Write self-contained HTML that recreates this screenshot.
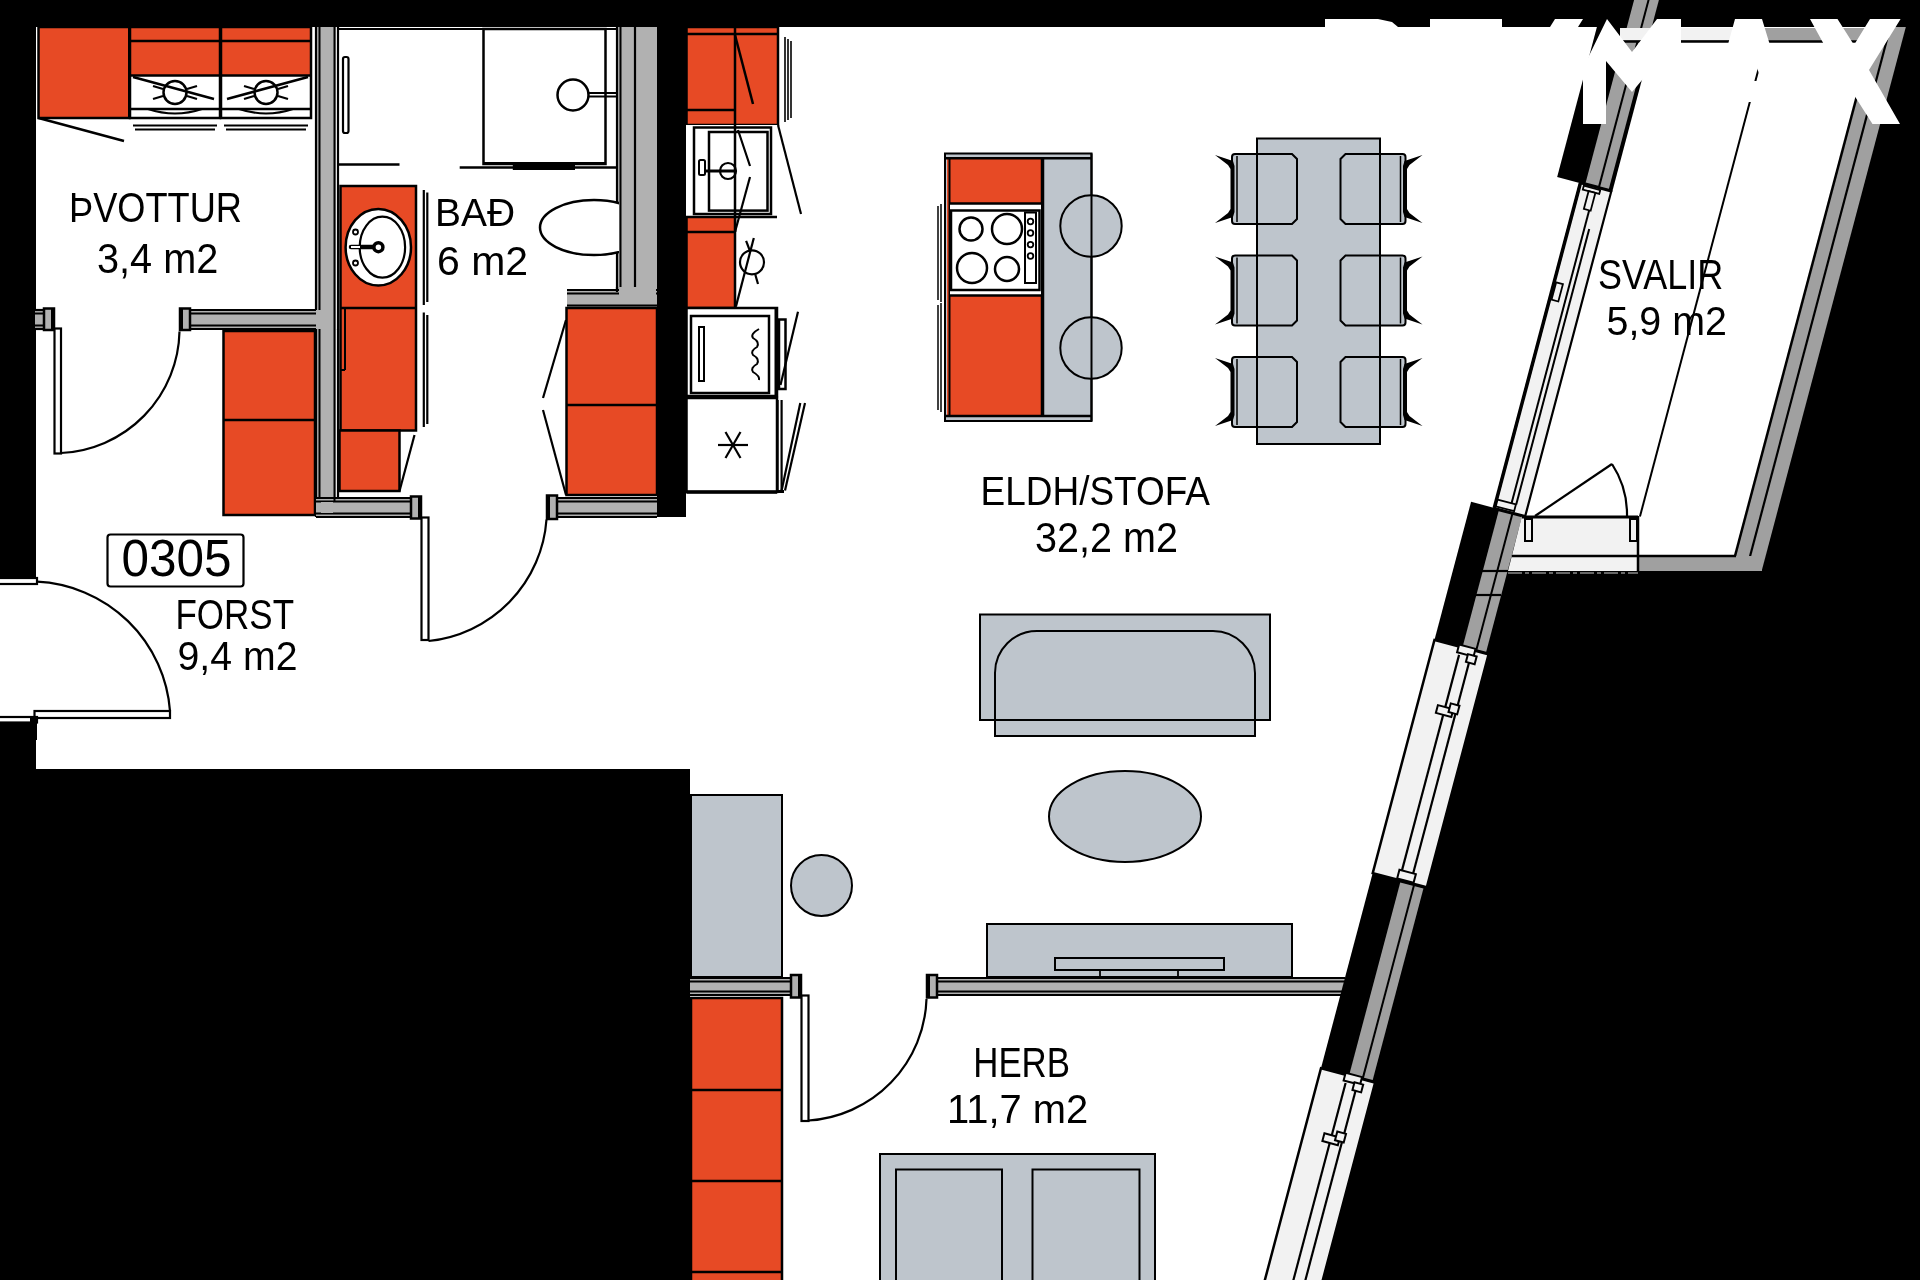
<!DOCTYPE html>
<html><head><meta charset="utf-8"><style>
html,body{margin:0;padding:0;background:#000;width:1920px;height:1280px;overflow:hidden}
svg{display:block}
text{font-family:"Liberation Sans",sans-serif;fill:#000}
</style></head><body>
<svg width="1920" height="1280" viewBox="0 0 1920 1280">
<rect x="0" y="0" width="1920" height="1280" fill="#000"/>
<polygon points="36,27 1875,27 1731,571 1510.7,571 1322.8,1280 690,1280 690,769 36,769 36,722 0,722 0,578 36,578" fill="#fff" stroke="none" stroke-width="0"/>
<rect x="38.5" y="27" width="91.0" height="91" fill="#E74A25" stroke="#000" stroke-width="2.5" />
<rect x="130" y="27" width="90" height="48" fill="#E74A25"/>
<rect x="130" y="27" width="90" height="91" fill="none" stroke="#000" stroke-width="2.5" />
<line x1="130" y1="41" x2="220" y2="41" stroke="#000" stroke-width="2.5" />
<line x1="130" y1="75.5" x2="220" y2="75.5" stroke="#000" stroke-width="2.5" />
<line x1="130" y1="109" x2="220" y2="109" stroke="#000" stroke-width="2.5" />
<rect x="221" y="27" width="90" height="48" fill="#E74A25"/>
<rect x="221" y="27" width="90" height="91" fill="none" stroke="#000" stroke-width="2.5" />
<line x1="221" y1="41" x2="311" y2="41" stroke="#000" stroke-width="2.5" />
<line x1="221" y1="75.5" x2="311" y2="75.5" stroke="#000" stroke-width="2.5" />
<line x1="221" y1="109" x2="311" y2="109" stroke="#000" stroke-width="2.5" />
<line x1="129.5" y1="27" x2="129.5" y2="118" stroke="#000" stroke-width="3" />
<circle cx="175" cy="92.5" r="11.5" fill="none" stroke="#000" stroke-width="2.5"/>
<line x1="133" y1="77" x2="214" y2="99" stroke="#000" stroke-width="2.5" />
<line x1="153" y1="86" x2="163" y2="89" stroke="#000" stroke-width="2.2" />
<line x1="187" y1="89" x2="197" y2="86" stroke="#000" stroke-width="2.2" />
<line x1="153" y1="99" x2="163" y2="96" stroke="#000" stroke-width="2.2" />
<line x1="187" y1="96" x2="197" y2="99" stroke="#000" stroke-width="2.2" />
<path d="M148,109 Q175,118 202,109" fill="none" stroke="#000" stroke-width="2" />
<line x1="133" y1="125.5" x2="217" y2="125.5" stroke="#000" stroke-width="2.2" />
<line x1="135" y1="129.5" x2="215" y2="129.5" stroke="#000" stroke-width="2.2" />
<circle cx="266" cy="92.5" r="11.5" fill="none" stroke="#000" stroke-width="2.5"/>
<line x1="308" y1="77" x2="227" y2="99" stroke="#000" stroke-width="2.5" />
<line x1="244" y1="86" x2="254" y2="89" stroke="#000" stroke-width="2.2" />
<line x1="278" y1="89" x2="288" y2="86" stroke="#000" stroke-width="2.2" />
<line x1="244" y1="99" x2="254" y2="96" stroke="#000" stroke-width="2.2" />
<line x1="278" y1="96" x2="288" y2="99" stroke="#000" stroke-width="2.2" />
<path d="M239,109 Q266,118 293,109" fill="none" stroke="#000" stroke-width="2" />
<line x1="224" y1="125.5" x2="308" y2="125.5" stroke="#000" stroke-width="2.2" />
<line x1="226" y1="129.5" x2="306" y2="129.5" stroke="#000" stroke-width="2.2" />
<line x1="38.5" y1="118" x2="124" y2="141" stroke="#000" stroke-width="2.5" />
<rect x="315" y="27" width="21" height="303" fill="#B1B1B1"/>
<line x1="316" y1="27" x2="316" y2="310" stroke="#000" stroke-width="2.2" />
<line x1="319.5" y1="27" x2="319.5" y2="310" stroke="#000" stroke-width="2" />
<line x1="334.5" y1="27" x2="334.5" y2="330" stroke="#000" stroke-width="2" />
<line x1="338" y1="27" x2="338" y2="330" stroke="#000" stroke-width="2.2" />
<rect x="190" y="309" width="126" height="21" fill="#B1B1B1"/>
<line x1="190" y1="310" x2="316" y2="310" stroke="#000" stroke-width="2.2" />
<line x1="190" y1="329" x2="316" y2="329" stroke="#000" stroke-width="2.2" />
<line x1="190" y1="313.5" x2="316" y2="313.5" stroke="#000" stroke-width="2" />
<line x1="190" y1="325.5" x2="316" y2="325.5" stroke="#000" stroke-width="2" />
<rect x="35" y="309" width="15" height="21" fill="#B1B1B1"/>
<line x1="35" y1="310" x2="50" y2="310" stroke="#000" stroke-width="2.2" />
<line x1="35" y1="329" x2="50" y2="329" stroke="#000" stroke-width="2.2" />
<line x1="35" y1="313.5" x2="50" y2="313.5" stroke="#000" stroke-width="2" />
<line x1="35" y1="325.5" x2="50" y2="325.5" stroke="#000" stroke-width="2" />
<rect x="44" y="308.5" width="10" height="21.5" fill="#B1B1B1" stroke="#000" stroke-width="2.5" />
<line x1="52.5" y1="308.5" x2="52.5" y2="330" stroke="#000" stroke-width="3" />
<g transform="translate(370,0) scale(-1,1)">
<rect x="180" y="308.5" width="10" height="21.5" fill="#B1B1B1" stroke="#000" stroke-width="2.5" />
<line x1="188.5" y1="308.5" x2="188.5" y2="330" stroke="#000" stroke-width="3" />
</g>
<rect x="54.5" y="328.5" width="6.5" height="125.0" fill="#fff" stroke="#000" stroke-width="2.2" />
<path d="M61,453 A124.3,124.3 0 0 0 179.5,331.5" fill="none" stroke="#000" stroke-width="2.2" />
<rect x="223.5" y="331" width="91.5" height="184" fill="#E74A25" stroke="#000" stroke-width="2.5" />
<line x1="223.5" y1="420" x2="315" y2="420" stroke="#000" stroke-width="2.5" />
<rect x="315" y="329" width="21" height="188" fill="#B1B1B1"/>
<line x1="316" y1="329" x2="316" y2="517" stroke="#000" stroke-width="2.2" />
<line x1="319.5" y1="329" x2="319.5" y2="513.5" stroke="#000" stroke-width="2" />
<rect x="316" y="497" width="97" height="21" fill="#B1B1B1"/>
<line x1="316" y1="498" x2="413" y2="498" stroke="#000" stroke-width="2.2" />
<line x1="316" y1="517" x2="413" y2="517" stroke="#000" stroke-width="2.2" />
<line x1="316" y1="501.5" x2="413" y2="501.5" stroke="#000" stroke-width="2" />
<line x1="316" y1="513.5" x2="413" y2="513.5" stroke="#000" stroke-width="2" />
<rect x="321" y="502" width="12" height="11" fill="#B1B1B1"/>
<line x1="334.5" y1="329" x2="334.5" y2="502" stroke="#000" stroke-width="2" />
<line x1="338" y1="329" x2="338" y2="498" stroke="#000" stroke-width="2.2" />
<rect x="411" y="496.5" width="10" height="22.0" fill="#B1B1B1" stroke="#000" stroke-width="2.5" />
<line x1="419.5" y1="496.5" x2="419.5" y2="518.5" stroke="#000" stroke-width="3" />
<rect x="421.5" y="517.5" width="7.0" height="122.5" fill="#fff" stroke="#000" stroke-width="2.2" />
<path d="M428.5,641 A131.6,131.6 0 0 0 546.5,519.5" fill="none" stroke="#000" stroke-width="2.2" />
<rect x="107.5" y="534.5" width="136.0" height="52.0" fill="#fff" stroke="#000" stroke-width="2.2" rx="3"/>
<rect x="-2" y="578" width="39" height="6" fill="#fff" stroke="#000" stroke-width="2.2" />
<path d="M37,581.7 A140,140 0 0 1 170,711" fill="none" stroke="#000" stroke-width="2.2" />
<rect x="34.5" y="711" width="135.5" height="7" fill="#fff" stroke="#000" stroke-width="2.2" />
<rect x="-2" y="717" width="39" height="5.5" fill="#fff" stroke="#000" stroke-width="2.2" />
<rect x="30" y="718" width="7" height="22" fill="#000"/>
<line x1="338" y1="29" x2="617" y2="29" stroke="#000" stroke-width="2.2" />
<rect x="343" y="57" width="5.5" height="76" fill="#fff" stroke="#000" stroke-width="2.2" rx="2"/>
<rect x="483.5" y="29" width="122.0" height="135" fill="none" stroke="#000" stroke-width="2.5" />
<line x1="483.5" y1="163" x2="605.5" y2="163" stroke="#000" stroke-width="2.2" />
<line x1="338.5" y1="164.5" x2="399.5" y2="164.5" stroke="#000" stroke-width="2.5" />
<line x1="459.7" y1="167.5" x2="619" y2="167.5" stroke="#000" stroke-width="2.5" />
<line x1="512.8" y1="167.5" x2="575" y2="167.5" stroke="#000" stroke-width="5" />
<circle cx="573" cy="95" r="15.5" fill="none" stroke="#000" stroke-width="2.5"/>
<line x1="589" y1="93" x2="617" y2="93" stroke="#000" stroke-width="2" />
<line x1="589" y1="96.5" x2="617" y2="96.5" stroke="#000" stroke-width="2" />
<rect x="617" y="27" width="40" height="279" fill="#B1B1B1"/>
<line x1="617" y1="27" x2="617" y2="290" stroke="#000" stroke-width="2.2" />
<line x1="620.5" y1="27" x2="620.5" y2="290" stroke="#000" stroke-width="2" />
<line x1="635" y1="27" x2="635" y2="290" stroke="#000" stroke-width="2.2" />
<clipPath id="toil"><rect x="500" y="180" width="119" height="100"/></clipPath>
<g clip-path="url(#toil)">
<ellipse cx="594" cy="227.6" rx="54" ry="27.5" fill="#fff" stroke="#000" stroke-width="2.5"/>
</g>
<rect x="340.5" y="186" width="75.5" height="244.5" fill="#E74A25" stroke="#000" stroke-width="2.5" />
<line x1="340.5" y1="308" x2="416" y2="308" stroke="#000" stroke-width="2.5" />
<line x1="345" y1="308" x2="345" y2="370" stroke="#000" stroke-width="2" />
<line x1="340.5" y1="370" x2="345" y2="370" stroke="#000" stroke-width="2" />
<rect x="339.5" y="430.5" width="60.0" height="60.5" fill="#E74A25" stroke="#000" stroke-width="2.5" />
<line x1="399.5" y1="491" x2="414.5" y2="435" stroke="#000" stroke-width="2.2" />
<ellipse cx="378.3" cy="247.2" rx="32.7" ry="38.3" fill="#fff" stroke="#000" stroke-width="2.5"/>
<ellipse cx="382.4" cy="247.2" rx="22.7" ry="30.5" fill="#fff" stroke="#000" stroke-width="2.2"/>
<line x1="351" y1="247" x2="378" y2="247" stroke="#000" stroke-width="4.5" stroke-linecap="round"/>
<line x1="351" y1="247" x2="360" y2="247" stroke="#fff" stroke-width="2" />
<circle cx="378.4" cy="247.2" r="4.5" fill="#fff" stroke="#000" stroke-width="3.5"/>
<circle cx="355.5" cy="232" r="2.5" fill="none" stroke="#000" stroke-width="1.8"/>
<circle cx="355.5" cy="263" r="2.5" fill="none" stroke="#000" stroke-width="1.8"/>
<line x1="423.8" y1="190" x2="423.8" y2="305" stroke="#000" stroke-width="2.2" />
<line x1="427.3" y1="192.5" x2="427.3" y2="302" stroke="#000" stroke-width="2.2" />
<line x1="423.8" y1="312.5" x2="423.8" y2="427" stroke="#000" stroke-width="2.2" />
<line x1="427.3" y1="315" x2="427.3" y2="424" stroke="#000" stroke-width="2.2" />
<rect x="567" y="289" width="90" height="21" fill="#B1B1B1"/>
<line x1="567" y1="290" x2="657" y2="290" stroke="#000" stroke-width="2.2" />
<line x1="567" y1="309" x2="657" y2="309" stroke="#000" stroke-width="2.2" />
<line x1="567" y1="293.5" x2="657" y2="293.5" stroke="#000" stroke-width="2" />
<line x1="567" y1="305.5" x2="657" y2="305.5" stroke="#000" stroke-width="2" />
<rect x="619" y="287" width="37" height="13" fill="#B1B1B1"/>
<line x1="617" y1="287" x2="617" y2="292" stroke="#000" stroke-width="2.2" />
<rect x="566.5" y="308" width="90.5" height="187" fill="#E74A25" stroke="#000" stroke-width="2.5" />
<line x1="566.5" y1="405" x2="657" y2="405" stroke="#000" stroke-width="2.5" />
<line x1="566" y1="320" x2="543" y2="398" stroke="#000" stroke-width="2.2" />
<line x1="543" y1="410" x2="566" y2="495" stroke="#000" stroke-width="2.2" />
<rect x="550" y="497" width="107" height="21" fill="#B1B1B1"/>
<line x1="550" y1="498" x2="657" y2="498" stroke="#000" stroke-width="2.2" />
<line x1="550" y1="517" x2="657" y2="517" stroke="#000" stroke-width="2.2" />
<line x1="550" y1="501.5" x2="657" y2="501.5" stroke="#000" stroke-width="2" />
<line x1="550" y1="513.5" x2="657" y2="513.5" stroke="#000" stroke-width="2" />
<g transform="translate(1105,0) scale(-1,1)">
<rect x="548" y="495.5" width="10" height="23.5" fill="#B1B1B1" stroke="#000" stroke-width="2.5" />
<line x1="556.5" y1="495.5" x2="556.5" y2="519" stroke="#000" stroke-width="3" />
</g>
<rect x="657" y="27" width="29" height="490" fill="#000"/>
<rect x="686.5" y="27" width="91.5" height="98" fill="#E74A25" stroke="#000" stroke-width="2.5" />
<line x1="686.5" y1="34" x2="778" y2="34" stroke="#000" stroke-width="2.5" />
<line x1="735" y1="27" x2="735" y2="125" stroke="#000" stroke-width="2.5" />
<line x1="686.5" y1="110" x2="735" y2="110" stroke="#000" stroke-width="2.5" />
<line x1="735" y1="35" x2="753" y2="104" stroke="#000" stroke-width="2.5" />
<line x1="785" y1="37" x2="785" y2="122" stroke="#000" stroke-width="1.6" />
<line x1="788" y1="39" x2="788" y2="120" stroke="#000" stroke-width="1.6" />
<line x1="791" y1="41" x2="791" y2="118" stroke="#000" stroke-width="1.6" />
<rect x="686" y="125" width="92" height="92" fill="#fff"/>
<rect x="694" y="127.5" width="77" height="86.5" fill="none" stroke="#000" stroke-width="2.5" />
<rect x="709" y="132" width="58.5" height="78.6" fill="none" stroke="#000" stroke-width="2.5" />
<line x1="735" y1="125" x2="735" y2="232" stroke="#000" stroke-width="2.5" />
<rect x="699" y="160" width="6" height="15" fill="#fff" stroke="#000" stroke-width="2" rx="1.5"/>
<line x1="705" y1="171" x2="735" y2="171" stroke="#000" stroke-width="3" />
<circle cx="728" cy="171" r="8" fill="none" stroke="#000" stroke-width="2.2"/>
<line x1="738" y1="130" x2="750" y2="166" stroke="#000" stroke-width="2.2" />
<line x1="750" y1="177" x2="735" y2="232" stroke="#000" stroke-width="2.2" />
<line x1="778" y1="125" x2="801" y2="214" stroke="#000" stroke-width="2.2" />
<line x1="735" y1="217" x2="777" y2="217" stroke="#000" stroke-width="2.5" />
<rect x="686.5" y="217" width="48.5" height="91" fill="#E74A25" stroke="#000" stroke-width="2.5" />
<line x1="686.5" y1="232" x2="735" y2="232" stroke="#000" stroke-width="2.5" />
<circle cx="752" cy="262.3" r="12" fill="none" stroke="#000" stroke-width="2.2"/>
<line x1="735.9" y1="306.6" x2="753.8" y2="238" stroke="#000" stroke-width="2.2" />
<line x1="746.1" y1="240.8" x2="749.6" y2="250" stroke="#000" stroke-width="2.2" />
<line x1="755.2" y1="274.2" x2="758" y2="284" stroke="#000" stroke-width="2.2" />
<rect x="686.5" y="308" width="90.5" height="88" fill="#fff" stroke="#000" stroke-width="2.5" />
<rect x="691" y="316" width="78" height="77" fill="none" stroke="#000" stroke-width="2.5" />
<rect x="699" y="327" width="5" height="54" fill="none" stroke="#000" stroke-width="2" />
<path d="M759,329 Q750,334 753,338 Q760,342 757,347 Q750,351 753,355 Q760,359 757,364 Q750,368 753,372 Q760,376 759,380" fill="none" stroke="#000" stroke-width="2" />
<rect x="779" y="319.5" width="6.5" height="69.5" fill="#fff" stroke="#000" stroke-width="2.5" />
<line x1="775.5" y1="308" x2="775.5" y2="397" stroke="#000" stroke-width="2" />
<line x1="780.5" y1="385" x2="798" y2="311.7" stroke="#000" stroke-width="2.2" />
<rect x="686.5" y="398" width="90.5" height="94" fill="#fff" stroke="#000" stroke-width="2.5" />
<line x1="686.5" y1="397" x2="777" y2="397" stroke="#000" stroke-width="3.5" />
<line x1="686.5" y1="492" x2="777" y2="492" stroke="#000" stroke-width="3.5" />
<line x1="718.0" y1="445.0" x2="748.0" y2="445.0" stroke="#000" stroke-width="2.2" />
<line x1="725.5" y1="432.0" x2="740.5" y2="458.0" stroke="#000" stroke-width="2.2" />
<line x1="740.5" y1="432.0" x2="725.5" y2="458.0" stroke="#000" stroke-width="2.2" />
<line x1="777.6" y1="400" x2="777.6" y2="491" stroke="#000" stroke-width="2.2" />
<line x1="781.6" y1="400" x2="781.6" y2="491" stroke="#000" stroke-width="2.2" />
<line x1="781.6" y1="490.6" x2="800.3" y2="403" stroke="#000" stroke-width="2.2" />
<line x1="785" y1="490.6" x2="805" y2="403" stroke="#000" stroke-width="2.2" />
<line x1="777" y1="491.5" x2="784" y2="491.5" stroke="#000" stroke-width="3" />
<rect x="945" y="153.5" width="146.5" height="267.5" fill="#BEC5CC" stroke="#000" stroke-width="2.0" />
<rect x="947" y="158" width="94" height="258" fill="#E74A25"/>
<line x1="945" y1="158.3" x2="1091.5" y2="158.3" stroke="#000" stroke-width="2.5" />
<line x1="945" y1="416" x2="1091.5" y2="416" stroke="#000" stroke-width="2.5" />
<line x1="949.5" y1="158" x2="949.5" y2="416" stroke="#000" stroke-width="2" />
<line x1="1042.5" y1="158" x2="1042.5" y2="416" stroke="#000" stroke-width="3.5" />
<rect x="950" y="203" width="91" height="93" fill="#fff"/>
<line x1="950" y1="203.5" x2="1041" y2="203.5" stroke="#000" stroke-width="2.5" />
<line x1="950" y1="295.5" x2="1041" y2="295.5" stroke="#000" stroke-width="2.5" />
<rect x="951" y="210.5" width="88.5" height="79.5" fill="none" stroke="#000" stroke-width="2.5" />
<circle cx="971" cy="229" r="11.5" fill="none" stroke="#000" stroke-width="2.5"/>
<circle cx="1007" cy="229" r="15" fill="none" stroke="#000" stroke-width="2.5"/>
<circle cx="972" cy="268" r="15" fill="none" stroke="#000" stroke-width="2.5"/>
<circle cx="1007" cy="269" r="12" fill="none" stroke="#000" stroke-width="2.5"/>
<rect x="1025" y="212.5" width="11" height="70.5" fill="none" stroke="#000" stroke-width="2" />
<circle cx="1030.5" cy="221.5" r="2.8" fill="none" stroke="#000" stroke-width="1.8"/>
<circle cx="1030.5" cy="233" r="2.8" fill="none" stroke="#000" stroke-width="1.8"/>
<circle cx="1030.5" cy="244.6" r="2.8" fill="none" stroke="#000" stroke-width="1.8"/>
<circle cx="1030.5" cy="256" r="2.8" fill="none" stroke="#000" stroke-width="1.8"/>
<line x1="938" y1="206" x2="938" y2="300" stroke="#000" stroke-width="1.5" />
<line x1="941" y1="204" x2="941" y2="302" stroke="#000" stroke-width="1.5" />
<line x1="938" y1="305" x2="938" y2="410" stroke="#000" stroke-width="1.5" />
<line x1="941" y1="303" x2="941" y2="412" stroke="#000" stroke-width="1.5" />
<circle cx="1091" cy="226" r="30.7" fill="#BEC5CC" stroke="#000" stroke-width="2.0"/>
<circle cx="1091" cy="348" r="30.7" fill="#BEC5CC" stroke="#000" stroke-width="2.0"/>
<line x1="1091.5" y1="153.5" x2="1091.5" y2="421" stroke="#000" stroke-width="2.0" />
<rect x="1257" y="138.5" width="123" height="305.5" fill="#BEC5CC" stroke="#000" stroke-width="2.0" />
<path d="M1235,154.0 L1292,154.0 L1297,159.0 L1297,219.0 L1292,224.0 L1235,224.0 Q1232,224.0 1232,221.0 L1232,157.0 Q1232,154.0 1235,154.0 Z" fill="#BEC5CC" stroke="#000" stroke-width="2.0" />
<line x1="1237" y1="156.0" x2="1237" y2="222.0" stroke="#000" stroke-width="1.5" />
<path fill="#000" d="M1215,155.0 L1233,161.0 L1234.5,166.0 L1234.5,212.0 L1233,217.0 L1215,223.0 L1228,213.0 L1230.5,209.0 L1230.5,169.0 L1228,165.0 Z"/>
<path d="M1345.5,154.0 L1402.5,154.0 Q1405.5,154.0 1405.5,157.0 L1405.5,221.0 Q1405.5,224.0 1402.5,224.0 L1345.5,224.0 L1340.5,219.0 L1340.5,159.0 Z" fill="#BEC5CC" stroke="#000" stroke-width="2.0" />
<line x1="1400.5" y1="156.0" x2="1400.5" y2="222.0" stroke="#000" stroke-width="1.5" />
<path fill="#000" d="M1422.5,155.0 L1404.5,161.0 L1403.0,166.0 L1403.0,212.0 L1404.5,217.0 L1422.5,223.0 L1409.5,213.0 L1407.0,209.0 L1407.0,169.0 L1409.5,165.0 Z"/>
<path d="M1235,255.5 L1292,255.5 L1297,260.5 L1297,320.5 L1292,325.5 L1235,325.5 Q1232,325.5 1232,322.5 L1232,258.5 Q1232,255.5 1235,255.5 Z" fill="#BEC5CC" stroke="#000" stroke-width="2.0" />
<line x1="1237" y1="257.5" x2="1237" y2="323.5" stroke="#000" stroke-width="1.5" />
<path fill="#000" d="M1215,256.5 L1233,262.5 L1234.5,267.5 L1234.5,313.5 L1233,318.5 L1215,324.5 L1228,314.5 L1230.5,310.5 L1230.5,270.5 L1228,266.5 Z"/>
<path d="M1345.5,255.5 L1402.5,255.5 Q1405.5,255.5 1405.5,258.5 L1405.5,322.5 Q1405.5,325.5 1402.5,325.5 L1345.5,325.5 L1340.5,320.5 L1340.5,260.5 Z" fill="#BEC5CC" stroke="#000" stroke-width="2.0" />
<line x1="1400.5" y1="257.5" x2="1400.5" y2="323.5" stroke="#000" stroke-width="1.5" />
<path fill="#000" d="M1422.5,256.5 L1404.5,262.5 L1403.0,267.5 L1403.0,313.5 L1404.5,318.5 L1422.5,324.5 L1409.5,314.5 L1407.0,310.5 L1407.0,270.5 L1409.5,266.5 Z"/>
<path d="M1235,357.0 L1292,357.0 L1297,362.0 L1297,422.0 L1292,427.0 L1235,427.0 Q1232,427.0 1232,424.0 L1232,360.0 Q1232,357.0 1235,357.0 Z" fill="#BEC5CC" stroke="#000" stroke-width="2.0" />
<line x1="1237" y1="359.0" x2="1237" y2="425.0" stroke="#000" stroke-width="1.5" />
<path fill="#000" d="M1215,358.0 L1233,364.0 L1234.5,369.0 L1234.5,415.0 L1233,420.0 L1215,426.0 L1228,416.0 L1230.5,412.0 L1230.5,372.0 L1228,368.0 Z"/>
<path d="M1345.5,357.0 L1402.5,357.0 Q1405.5,357.0 1405.5,360.0 L1405.5,424.0 Q1405.5,427.0 1402.5,427.0 L1345.5,427.0 L1340.5,422.0 L1340.5,362.0 Z" fill="#BEC5CC" stroke="#000" stroke-width="2.0" />
<line x1="1400.5" y1="359.0" x2="1400.5" y2="425.0" stroke="#000" stroke-width="1.5" />
<path fill="#000" d="M1422.5,358.0 L1404.5,364.0 L1403.0,369.0 L1403.0,415.0 L1404.5,420.0 L1422.5,426.0 L1409.5,416.0 L1407.0,412.0 L1407.0,372.0 L1409.5,368.0 Z"/>
<line x1="1257" y1="138.5" x2="1257" y2="444" stroke="#000" stroke-width="2.0" />
<line x1="1380" y1="138.5" x2="1380" y2="444" stroke="#000" stroke-width="2.0" />
<rect x="980" y="614.5" width="290" height="105.5" fill="#BEC5CC" stroke="#000" stroke-width="2.0" />
<path d="M995,736 L995,673 A42,42 0 0 1 1037,631 L1213,631 A42,42 0 0 1 1255,673 L1255,736 Z" fill="#BEC5CC" stroke="#000" stroke-width="2.0" />
<line x1="980" y1="720" x2="1270" y2="720" stroke="#000" stroke-width="2.0" />
<line x1="980" y1="720" x2="980" y2="614.5" stroke="#000" stroke-width="2.0" />
<line x1="1270" y1="720" x2="1270" y2="614.5" stroke="#000" stroke-width="2.0" />
<ellipse cx="1125" cy="816.5" rx="76" ry="45.5" fill="#BEC5CC" stroke="#000" stroke-width="2.0"/>
<rect x="987" y="924" width="305" height="53" fill="#BEC5CC" stroke="#000" stroke-width="2.0" />
<rect x="1055" y="958" width="169" height="12" fill="#BEC5CC" stroke="#000" stroke-width="2.0" />
<line x1="1100" y1="970" x2="1100" y2="977" stroke="#000" stroke-width="1.8" />
<line x1="1178" y1="970" x2="1178" y2="977" stroke="#000" stroke-width="1.8" />
<rect x="691" y="795" width="91" height="182" fill="#BEC5CC" stroke="#000" stroke-width="2.0" />
<circle cx="821.5" cy="885.5" r="30.5" fill="#BEC5CC" stroke="#000" stroke-width="2.0"/>
<rect x="689" y="977" width="105" height="19" fill="#B1B1B1"/>
<line x1="689" y1="978" x2="794" y2="978" stroke="#000" stroke-width="2.2" />
<line x1="689" y1="995" x2="794" y2="995" stroke="#000" stroke-width="2.2" />
<line x1="689" y1="981.5" x2="794" y2="981.5" stroke="#000" stroke-width="2" />
<line x1="689" y1="991.5" x2="794" y2="991.5" stroke="#000" stroke-width="2" />
<rect x="791" y="975" width="10" height="22.5" fill="#B1B1B1" stroke="#000" stroke-width="2.5" />
<line x1="799.5" y1="975" x2="799.5" y2="997.5" stroke="#000" stroke-width="3" />
<rect x="934" y="977" width="411" height="19" fill="#B1B1B1"/>
<line x1="934" y1="978" x2="1345" y2="978" stroke="#000" stroke-width="2.2" />
<line x1="934" y1="995" x2="1345" y2="995" stroke="#000" stroke-width="2.2" />
<line x1="934" y1="981.5" x2="1345" y2="981.5" stroke="#000" stroke-width="2" />
<line x1="934" y1="991.5" x2="1345" y2="991.5" stroke="#000" stroke-width="2" />
<g transform="translate(1864,0) scale(-1,1)">
<rect x="927" y="975" width="10" height="22.5" fill="#B1B1B1" stroke="#000" stroke-width="2.5" />
<line x1="935.5" y1="975" x2="935.5" y2="997.5" stroke="#000" stroke-width="3" />
</g>
<rect x="691" y="998" width="91" height="292" fill="#E74A25" stroke="#000" stroke-width="2.5" />
<line x1="691" y1="1090" x2="782" y2="1090" stroke="#000" stroke-width="2.5" />
<line x1="691" y1="1181" x2="782" y2="1181" stroke="#000" stroke-width="2.5" />
<line x1="691" y1="1272" x2="782" y2="1272" stroke="#000" stroke-width="2.5" />
<rect x="801.5" y="995.5" width="7.0" height="125.5" fill="#fff" stroke="#000" stroke-width="2.2" />
<path d="M808.5,1120.5 A126,126 0 0 0 926.5,999" fill="none" stroke="#000" stroke-width="2.2" />
<rect x="880" y="1154" width="275" height="146" fill="#BEC5CC" stroke="#000" stroke-width="2.0" />
<rect x="896" y="1169.5" width="106" height="130.5" fill="#BEC5CC" stroke="#000" stroke-width="2.0" />
<rect x="1032.5" y="1169.5" width="107.0" height="130.5" fill="#BEC5CC" stroke="#000" stroke-width="2.0" />
<rect x="0" y="769" width="690" height="511" fill="#000"/>
<g transform="translate(1662,0) rotate(14.842)">
<rect x="-56" y="-120" width="57" height="318" fill="#000"/>
<rect x="-27" y="-118" width="13" height="314" fill="#A0A0A0"/>
<rect x="-12" y="-118" width="9" height="314" fill="#A0A0A0"/>
<rect x="-56" y="534" width="57" height="143" fill="#000"/>
<rect x="-27" y="536" width="13" height="139" fill="#A0A0A0"/>
<rect x="-12" y="536" width="9" height="139" fill="#A0A0A0"/>
<rect x="-56" y="918" width="57" height="202" fill="#000"/>
<rect x="-27" y="920" width="13" height="198" fill="#A0A0A0"/>
<rect x="-12" y="920" width="9" height="198" fill="#A0A0A0"/>
<rect x="-56" y="677" width="56" height="241" fill="#F2F2F2" stroke="#000" stroke-width="2.5" />
<line x1="-28.4" y1="685" x2="-28.4" y2="910" stroke="#000" stroke-width="2.2" />
<line x1="-16.8" y1="685" x2="-16.8" y2="910" stroke="#000" stroke-width="2.2" />
<rect x="-31" y="675" width="17" height="8" fill="#F2F2F2" stroke="#000" stroke-width="2" />
<rect x="-20" y="682" width="9" height="8" fill="#F2F2F2" stroke="#000" stroke-width="2" />
<rect x="-36" y="739" width="16" height="8" fill="#F2F2F2" stroke="#000" stroke-width="2" />
<rect x="-24" y="734" width="9" height="9" fill="#F2F2F2" stroke="#000" stroke-width="2" />
<rect x="-31" y="908" width="17" height="9" fill="#F2F2F2" stroke="#000" stroke-width="2" />
<rect x="-56" y="1120" width="56" height="300" fill="#F2F2F2" stroke="#000" stroke-width="2.5" />
<line x1="-28.4" y1="1128" x2="-28.4" y2="1412" stroke="#000" stroke-width="2.2" />
<line x1="-16.8" y1="1128" x2="-16.8" y2="1412" stroke="#000" stroke-width="2.2" />
<rect x="-31" y="1118" width="17" height="8" fill="#F2F2F2" stroke="#000" stroke-width="2" />
<rect x="-20" y="1125" width="9" height="8" fill="#F2F2F2" stroke="#000" stroke-width="2" />
<rect x="-36" y="1182" width="16" height="8" fill="#F2F2F2" stroke="#000" stroke-width="2" />
<rect x="-24" y="1177" width="9" height="9" fill="#F2F2F2" stroke="#000" stroke-width="2" />
<rect x="-32" y="198" width="32" height="336" fill="#F2F2F2" stroke="#000" stroke-width="2.2" />
<line x1="-32" y1="198" x2="-32" y2="534" stroke="#000" stroke-width="3.5" />
<line x1="-16.5" y1="222" x2="-16.5" y2="525" stroke="#000" stroke-width="2" />
<line x1="-11.7" y1="240" x2="-11.7" y2="525" stroke="#000" stroke-width="2" />
<rect x="-28" y="199.5" width="17" height="4.0" fill="#F2F2F2" stroke="#000" stroke-width="1.8" />
<rect x="-22" y="203.5" width="7" height="18.5" fill="#F2F2F2" stroke="#000" stroke-width="1.8" />
<rect x="-30" y="300" width="7" height="18" fill="#F2F2F2" stroke="#000" stroke-width="1.8" />
<rect x="-31" y="525" width="19" height="7" fill="#F2F2F2" stroke="#000" stroke-width="1.8" />
</g>
<clipPath id="balc"><rect x="0" y="27" width="1920" height="544"/></clipPath>
<g clip-path="url(#balc)"><g transform="translate(1662,0) rotate(14.842)">
<rect x="213" y="-60" width="29.6" height="680" fill="#A0A0A0"/>
<line x1="213" y1="-60" x2="213" y2="620" stroke="#000" stroke-width="2.5" />
<line x1="227.6" y1="-60" x2="227.6" y2="620" stroke="#000" stroke-width="2.2" />
<line x1="111" y1="30" x2="111" y2="505" stroke="#000" stroke-width="2" />
</g></g>
<rect x="1638" y="556" width="124" height="15" fill="#A0A0A0"/>
<line x1="1638" y1="556" x2="1736" y2="556" stroke="#000" stroke-width="2.5" />
<polygon points="1522,516 1638,516 1638,571 1508,571" fill="#F2F2F2" stroke="none" stroke-width="0"/>
<line x1="1522" y1="517" x2="1638" y2="517" stroke="#000" stroke-width="3" />
<line x1="1512" y1="556" x2="1638" y2="556" stroke="#000" stroke-width="2.5" />
<line x1="1638" y1="516" x2="1638" y2="571" stroke="#000" stroke-width="2.5" />
<line x1="1508" y1="573" x2="1638" y2="573" stroke="#888" stroke-width="1.5" stroke-dasharray="14,3,4,3"/>
<line x1="1482" y1="571" x2="1508" y2="571" stroke="#000" stroke-width="2.2" />
<line x1="1476" y1="595" x2="1501" y2="595" stroke="#000" stroke-width="2.2" />
<rect x="1525" y="519" width="7" height="22" fill="#F2F2F2" stroke="#000" stroke-width="2" />
<rect x="1630" y="519" width="7" height="22" fill="#F2F2F2" stroke="#000" stroke-width="2" />
<line x1="1535" y1="516" x2="1612" y2="464" stroke="#000" stroke-width="2.2" />
<path d="M1612,464 A92,92 0 0 1 1627,516" fill="none" stroke="#000" stroke-width="2.2" />
<rect x="1620" y="28" width="260" height="13" fill="#A0A0A0"/>
<rect x="1620" y="28" width="122" height="12" fill="#F2F2F2"/>
<line x1="1620" y1="41.5" x2="1880" y2="41.5" stroke="#000" stroke-width="2.5" />
<g style="will-change:transform">
<text x="69.0" y="221.5" font-size="43.42" textLength="173.0" lengthAdjust="spacingAndGlyphs" text-anchor="start">ÞVOTTUR</text>
<text x="97.0" y="273.0" font-size="41.98" textLength="121.25" lengthAdjust="spacingAndGlyphs" text-anchor="start">3,4 m2</text>
<text x="435.0" y="226.0" font-size="39.49" textLength="80.0" lengthAdjust="spacingAndGlyphs" text-anchor="start">BAÐ</text>
<text x="437.0" y="274.5" font-size="41.28" textLength="91.0" lengthAdjust="spacingAndGlyphs" text-anchor="start">6 m2</text>
<text x="121.5" y="575.5" font-size="51.01" textLength="110.0" lengthAdjust="spacingAndGlyphs" text-anchor="start">0305</text>
<text x="175.5" y="629.0" font-size="42.68" textLength="118.5" lengthAdjust="spacingAndGlyphs" text-anchor="start">FORST</text>
<text x="177.5" y="669.5" font-size="39.86" textLength="120.0" lengthAdjust="spacingAndGlyphs" text-anchor="start">9,4 m2</text>
<text x="980.5" y="505.0" font-size="39.9" textLength="229.5" lengthAdjust="spacingAndGlyphs" text-anchor="start">ELDH/STOFA</text>
<text x="1035.0" y="552.0" font-size="42.03" textLength="143.0" lengthAdjust="spacingAndGlyphs" text-anchor="start">32,2 m2</text>
<text x="1598.0" y="288.75" font-size="41.67" textLength="125.25" lengthAdjust="spacingAndGlyphs" text-anchor="start">SVALIR</text>
<text x="1606.5" y="335.0" font-size="39.84" textLength="120.5" lengthAdjust="spacingAndGlyphs" text-anchor="start">5,9 m2</text>
<text x="973.25" y="1076.5" font-size="41.97" textLength="96.75" lengthAdjust="spacingAndGlyphs" text-anchor="start">HERB</text>
<text x="947.0" y="1122.5" font-size="39.86" textLength="141.25" lengthAdjust="spacingAndGlyphs" text-anchor="start">11,7 m2</text>
</g>
<polygon points="1325,19 1378,19 1392,22 1398,27 1398,60 1325,60" fill="#fff" stroke="none" stroke-width="0"/>
<polygon points="1430,19 1502,19 1502,27 1430,27" fill="#fff" stroke="none" stroke-width="0"/>
<polygon points="1550,27 1555,19 1583,19 1578,27" fill="#fff" stroke="none" stroke-width="0"/>
<polygon points="1607,19 1632,52 1657,19 1681,19 1681,124 1658,124 1658,61 1632,92 1606,61 1606,124 1583,124 1583,68" fill="#fff" stroke="none" stroke-width="0"/>
<path fill="#fff" fill-rule="evenodd" d="M1735,19 L1762,19 L1794,124 L1768,124 L1760,102 L1742,102 L1734,124 L1706,124 Z M1753,58 L1762,81 L1744,81 Z"/>
<polygon points="1810,19 1837.5,19 1854,45 1870,19 1900.6,19 1869,70 1900,124 1872.5,124 1854,95 1835,124 1807,124 1838,70" fill="#fff" stroke="none" stroke-width="0"/>
</svg></body></html>
